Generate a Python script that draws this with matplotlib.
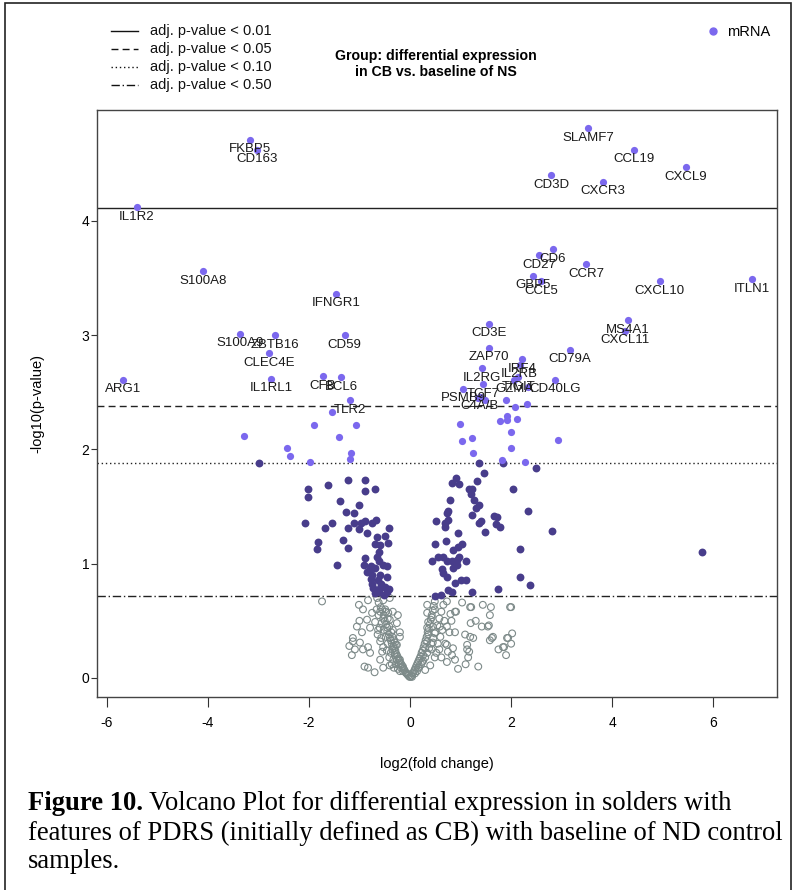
import matplotlib
matplotlib.use('Agg')
import matplotlib.pyplot as plt
from matplotlib.lines import Line2D
from matplotlib.patches import Rectangle
import numpy as np

plt.rcParams['font.family'] = ['Liberation Sans', 'DejaVu Sans']
plt.rcParams['axes.unicode_minus'] = False

# labelled genes (light purple, above the 0.10 line)
gene_names = ['FKBP5', 'CD163', 'IL1R2', 'S100A8', 'IFNGR1', 'S100A9', 'ZBTB16', 'CD59',
              'CLEC4E', 'ARG1', 'IL1RL1', 'CFB', 'BCL6', 'TLR2',
              'SLAMF7', 'CCL19', 'CXCL9', 'CD3D', 'CXCR3', 'CD6', 'CD27', 'CCR7', 'GBP5',
              'CCL5', 'CXCL10', 'ITLN1', 'CD3E', 'MS4A1', 'CXCL11', 'CD79A', 'ZAP70',
              'IRF4', 'IL2RB', 'IL2RG', 'TIGIT', 'GZMA', 'CD40LG', 'TCF7', 'PSMB9', 'C4A/B']
gene_fc = [-3.16, -3.02, -5.40, -4.09, -1.46, -3.36, -2.67, -1.29,
           -2.79, -5.67, -2.75, -1.72, -1.36, -1.19,
           3.52, 4.43, 5.46, 2.79, 3.82, 2.83, 2.55, 3.48, 2.43,
           2.59, 4.94, 6.76, 1.56, 4.31, 4.25, 3.16, 1.56,
           2.21, 2.17, 1.42, 2.14, 2.06, 2.87, 1.44, 1.05, 1.38]
gene_p = [4.71, 4.62, 4.12, 3.56, 3.36, 3.01, 3.00, 3.00,
          2.84, 2.61, 2.62, 2.64, 2.63, 2.43,
          4.81, 4.62, 4.47, 4.40, 4.34, 3.75, 3.70, 3.62, 3.52,
          3.47, 3.47, 3.49, 3.10, 3.13, 3.04, 2.87, 2.89,
          2.79, 2.74, 2.71, 2.63, 2.61, 2.61, 2.57, 2.53, 2.46]

# other light purple points (adj. p < 0.10)
sig_fc = [-3.28, -1.90, -1.40, -1.07, -2.43, -2.37, -1.17, -1.19, -1.98, -1.54,
          0.99, 1.03, 1.23, 1.25, 1.78, 1.92, 1.92, 2.12, 2.00, 2.00, 1.82, 2.27,
          2.93, 1.90, 2.08, 2.31, 2.33, 1.34, 1.48]
sig_p = [2.12, 2.21, 2.11, 2.21, 2.01, 1.94, 1.97, 1.92, 1.89, 2.33,
         2.22, 2.07, 2.10, 1.97, 2.25, 2.29, 2.26, 2.27, 2.15, 2.01, 1.91, 1.89,
         2.08, 2.43, 2.37, 2.40, 2.55, 2.45, 2.43]

# dark purple points (adj. p < 0.50)
mid_fc = [-2.99, -2.02, -1.62, -1.23, -0.89, -2.02, -0.89, -0.69, -1.38, -1.01,
          -1.27, -1.11, -2.08, -1.54, -1.11, -0.97, -0.89, -0.75, -0.67, -1.68,
          -1.23, -1.01, -0.85, -0.42, -0.65, -0.49, -1.82, -1.32, -0.69, -0.59,
          -0.43, -1.84, -1.23, -0.61, -0.89, -0.65, -0.61, -1.44, -0.91, -0.77,
          -0.53, -0.45, -0.79, -0.69, -0.85, -0.75, -0.59, -0.45, -0.77, -0.63,
          -0.75, -0.57, -0.49, -0.73, -0.59, -0.42, -0.61, -0.45, -0.69, -0.51,
          1.36, 1.84, 2.49, 0.91, 0.83, 0.97, 1.46, 1.32, 1.17, 1.23,
          1.21, 2.04, 0.79, 1.27, 1.36, 1.30, 0.75, 0.73, 1.23, 2.33,
          0.51, 0.75, 0.69, 0.69, 1.40, 1.36, 1.66, 1.72, 1.70, 1.78,
          1.48, 2.81, 0.95, 0.49, 0.71, 1.03, 0.95, 0.85, 2.17, 0.43,
          0.55, 0.65, 0.73, 0.83, 0.93, 0.97, 1.11, 0.63, 0.65, 0.85,
          0.93, 0.73, 0.89, 1.01, 1.11, 2.17, 2.37, 1.74, 0.75, 0.83,
          1.23, 0.49, 0.61, 5.77]
mid_p = [1.88, 1.65, 1.69, 1.73, 1.73, 1.58, 1.64, 1.65, 1.55, 1.51,
         1.45, 1.44, 1.36, 1.36, 1.36, 1.36, 1.37, 1.36, 1.38, 1.31,
         1.31, 1.30, 1.27, 1.31, 1.23, 1.24, 1.19, 1.21, 1.17, 1.16,
         1.18, 1.13, 1.14, 1.10, 1.05, 1.06, 1.02, 0.99, 0.99, 0.98,
         0.99, 0.98, 0.95, 0.96, 0.93, 0.90, 0.90, 0.88, 0.87, 0.86,
         0.82, 0.82, 0.80, 0.79, 0.79, 0.78, 0.75, 0.75, 0.74, 0.73,
         1.88, 1.88, 1.84, 1.75, 1.71, 1.70, 1.79, 1.72, 1.65, 1.65,
         1.61, 1.65, 1.56, 1.56, 1.51, 1.49, 1.46, 1.44, 1.43, 1.46,
         1.37, 1.38, 1.36, 1.32, 1.37, 1.36, 1.42, 1.41, 1.35, 1.32,
         1.28, 1.29, 1.27, 1.17, 1.20, 1.17, 1.15, 1.12, 1.13, 1.02,
         1.06, 1.06, 1.02, 1.02, 1.03, 1.06, 1.02, 0.95, 0.92, 0.96,
         0.99, 0.88, 0.83, 0.86, 0.86, 0.88, 0.81, 0.78, 0.77, 0.75,
         0.75, 0.72, 0.73, 1.10]

# grey open circles (not significant)
ns_fc = [-1.74, -1.01, -0.83, -0.65, -0.53, -0.40, -0.93, -0.75, -0.59, -0.49,
         -0.43, -0.34, -0.24, -0.85, -0.69, -0.53, -0.40, -0.26, -0.79, -0.63,
         -0.45, -0.34, -0.20, -1.13, -1.13, -0.99, -1.09, -0.93, -0.83, -0.79,
         -0.59, -0.53, -0.55, -0.59, -0.83, -0.53, -0.40, -0.20, -0.26, -0.30,
         -0.20, -0.14, -0.06, 0.04, 0.10, 0.16, 0.24, 0.26, 0.30, 0.34,
         0.36, 0.34, 0.36, 0.34, 0.34, 0.43, 0.49, 0.45, 0.49, 0.45,
         0.43, 0.49, 0.40, 0.30, 0.73, 0.59, 0.73, 0.73, 0.75, 0.83,
         0.85, 0.73, 0.89, 0.89, 1.03, 1.19, 1.44, 1.58, 1.54, 1.42,
         1.98, 0.89, 1.09, 1.19, 1.25, 1.13, 1.13, 1.15, 1.62, 1.58,
         1.84, 1.94, 2.02,
         -0.62, -0.58, -0.55, -0.52, -0.50, -0.47, -0.45, -0.42, -0.40, -0.38,
         -0.36, -0.33, -0.31, -0.29, -0.27, -0.25, -0.23, -0.21, -0.19, -0.17,
         -0.15, -0.13, -0.11, -0.09, -0.07, -0.05, -0.03, -0.01, -0.48, -0.44,
         -0.41, -0.37, -0.35, -0.32, -0.30, -0.28, -0.35, -0.30, -0.26, -0.22,
         -0.18, -0.14, -0.38, -0.33, -0.28, -0.24, -0.20, -0.44, -0.48, -0.52,
         -0.56, -0.46, -0.41, -0.36, -0.32, -0.62, -0.66, -0.60, -0.64, -0.57,
         0.01, 0.03, 0.05, 0.07, 0.09, 0.11, 0.13, 0.15, 0.17, 0.19,
         0.21, 0.23, 0.25, 0.27, 0.29, 0.31, 0.33, 0.35, 0.37, 0.39,
         0.41, 0.43, 0.45, 0.47, 0.49, 0.14, 0.18, 0.22, 0.26, 0.30,
         0.34, 0.38, 0.42, 0.46, 0.50, 0.54, 0.58, 0.62, 0.66, 0.55,
         0.60, 0.64, 0.68, 0.52, 0.58, 0.62, 0.70, 0.78, 0.82, 0.80,
         -1.00, -1.05, -0.95, -1.20, -1.15, -0.90, -0.70, 1.30, 1.20, 1.60,
         1.75, 1.90, 2.00, 1.35, 1.10, 0.95, 2.00, 1.56, 1.92, 1.86,
         1.64, 1.17, 0.91, 1.21]
ns_p = [0.67, 0.64, 0.68, 0.70, 0.68, 0.70, 0.60, 0.57, 0.58, 0.60,
        0.57, 0.58, 0.55, 0.51, 0.49, 0.52, 0.51, 0.48, 0.44, 0.42,
        0.44, 0.42, 0.40, 0.35, 0.32, 0.31, 0.25, 0.25, 0.27, 0.22,
        0.32, 0.27, 0.23, 0.16, 0.09, 0.09, 0.11, 0.36, 0.29, 0.22,
        0.16, 0.10, 0.04, 0.01, 0.04, 0.09, 0.14, 0.20, 0.26, 0.32,
        0.38, 0.44, 0.49, 0.57, 0.64, 0.53, 0.60, 0.45, 0.39, 0.31,
        0.25, 0.18, 0.11, 0.07, 0.67, 0.45, 0.45, 0.29, 0.23, 0.20,
        0.26, 0.14, 0.16, 0.58, 0.66, 0.62, 0.64, 0.55, 0.45, 0.45,
        0.62, 0.40, 0.38, 0.36, 0.35, 0.29, 0.25, 0.18, 0.35, 0.33,
        0.27, 0.35, 0.39,
        0.66, 0.62, 0.60, 0.55, 0.50, 0.47, 0.41, 0.38, 0.35, 0.33,
        0.30, 0.28, 0.26, 0.24, 0.21, 0.19, 0.17, 0.15, 0.13, 0.12,
        0.10, 0.08, 0.07, 0.05, 0.04, 0.03, 0.02, 0.01, 0.58, 0.52,
        0.45, 0.40, 0.36, 0.33, 0.31, 0.29, 0.25, 0.20, 0.16, 0.12,
        0.09, 0.06, 0.22, 0.16, 0.12, 0.08, 0.06, 0.30, 0.36, 0.42,
        0.48, 0.24, 0.18, 0.12, 0.09, 0.55, 0.60, 0.44, 0.38, 0.35,
        0.01, 0.02, 0.04, 0.05, 0.07, 0.09, 0.11, 0.13, 0.15, 0.17,
        0.19, 0.22, 0.24, 0.27, 0.30, 0.33, 0.36, 0.40, 0.43, 0.47,
        0.51, 0.55, 0.59, 0.63, 0.67, 0.06, 0.09, 0.12, 0.15, 0.18,
        0.22, 0.26, 0.30, 0.35, 0.40, 0.46, 0.52, 0.58, 0.64, 0.30,
        0.36, 0.42, 0.50, 0.22, 0.25, 0.18, 0.30, 0.40, 0.50, 0.56,
        0.50, 0.45, 0.40, 0.28, 0.20, 0.10, 0.05, 0.50, 0.48, 0.62,
        0.25, 0.20, 0.30, 0.10, 0.12, 0.08, 0.62, 0.46, 0.35, 0.27,
        0.36, 0.23, 0.58, 0.62]

# thresholds for adjusted p-values (in -log10(p) units)
thr_values = [4.115, 2.38, 1.883, 0.718]
thr_labels = ['adj. p-value < 0.01', 'adj. p-value < 0.05',
              'adj. p-value < 0.10', 'adj. p-value < 0.50']
thr_styles = ['-', (0, (5, 3)), (0, (1, 2)), (0, (6, 2, 1, 2))]

x_ticks = [-6, -4, -2, 0, 2, 4, 6]
y_ticks = [0, 1, 2, 3, 4]

light = '#7b68ee'
dark = '#483d8b'
grey = '#7d8a89'

fig = plt.figure(figsize=(7.96, 8.9), dpi=100)
ax = fig.add_axes([0.1219, 0.2169, 0.8543, 0.6596])

ax.scatter(ns_fc, ns_p, s=24, facecolors='none', edgecolors=grey, linewidths=0.8, zorder=2)
ax.scatter(mid_fc, mid_p, s=32, color=dark, linewidths=0, zorder=3)
ax.scatter(sig_fc, sig_p, s=27, color=light, linewidths=0, zorder=3)
ax.scatter(gene_fc, gene_p, s=27, color=light, linewidths=0, zorder=3)

for name, x, y in zip(gene_names, gene_fc, gene_p):
    ax.annotate(name, (x, y), xytext=(0, -2.5), textcoords='offset points',
                ha='center', va='top', fontsize=9.5, color='#1a1a1a', zorder=4)

for v, st in zip(thr_values, thr_styles):
    ax.axhline(v, color='#222222', linestyle=st, linewidth=1.0, zorder=1)

ax.set_xlim(-6.19, 7.26)
ax.set_ylim(-0.166, 4.97)
ax.set_xticks(x_ticks)
ax.set_yticks(y_ticks)
ax.tick_params(axis='x', length=7, pad=7, labelsize=10, color='#333333')
ax.tick_params(axis='y', length=4, pad=1.5, labelsize=10, color='#333333')
for sp in ax.spines.values():
    sp.set_color('#444444')
    sp.set_linewidth(1.0)
ax.set_xlabel('log2(fold change)', fontsize=10.5, labelpad=19)
ax.set_ylabel('-log10(p-value)', fontsize=10.5, labelpad=27)

# legend for threshold lines (top left, outside plot)
leg_y = [31, 49, 67, 85]
for yy, lab, st in zip(leg_y, thr_labels, thr_styles):
    yf = 1 - yy / 890
    fig.add_artist(Line2D([111 / 796, 138 / 796], [yf, yf], color='#111111',
                          linestyle=st, linewidth=1.0))
    fig.text(150 / 796, yf, lab, fontsize=10.5, va='center', ha='left', color='#111111')

fig.text(436 / 796, 1 - 64 / 890, 'Group: differential expression\nin CB vs. baseline of NS',
         fontsize=10.2, fontweight='bold', ha='center', va='center', linespacing=1.25)

# mRNA legend
fig.add_artist(Line2D([713 / 796], [1 - 31 / 890], marker='o', markersize=5,
                      color=light, linestyle='none'))
fig.text(727 / 796, 1 - 32 / 890, 'mRNA', fontsize=10.5, va='center', ha='left')

# outer frame
fig.add_artist(Rectangle((5 / 796, -0.05), 786 / 796, 1.05 - 3 / 890, transform=fig.transFigure,
                         fill=False, edgecolor='#222222', linewidth=1.2))

# caption
serif = ['Liberation Serif', 'DejaVu Serif']
cap_size = 19.2
renderer = fig.canvas.get_renderer()
t0 = fig.text(28 / 796, 1 - 804 / 890, 'Figure 10.', fontsize=cap_size, fontweight='bold',
              family=serif, va='center', ha='left')
bb = t0.get_window_extent(renderer=renderer)
fig.text(bb.x1 / 796, 1 - 804 / 890,
         ' Volcano Plot for differential expression in solders with',
         fontsize=cap_size, family=serif, va='center', ha='left')
fig.text(28 / 796, 1 - 833 / 890,
         'features of PDRS (initially defined as CB) with baseline of ND control',
         fontsize=cap_size, family=serif, va='center', ha='left')
fig.text(28 / 796, 1 - 862 / 890, 'samples.', fontsize=cap_size, family=serif,
         va='center', ha='left')

fig.savefig('out.png', dpi=100)
